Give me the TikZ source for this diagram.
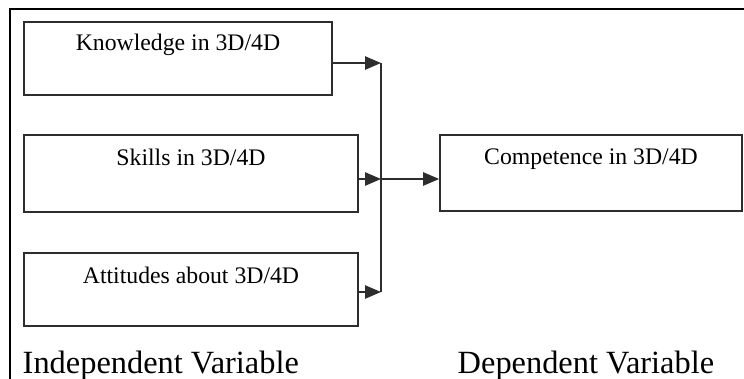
\documentclass[tikz,border=0pt]{standalone}
\usepackage{fontspec}
\setmainfont{Liberation Serif}
\usetikzlibrary{arrows.meta,positioning}
\usepackage{xcolor}
\definecolor{myline}{RGB}{45,45,45}

\begin{document}
\begin{tikzpicture}[->,>={Triangle[length=12pt,width=10pt]},x=0.75pt,y=-0.75pt,line width=1.1pt]
  \tikzstyle{every node}=[inner sep=0pt]
  \tikzstyle{var}=[rectangle,draw=myline,line width=1.3pt]
  \tikzstyle{vartext}=[font=\fontsize{17.8}{20}\selectfont,anchor=base]
  \tikzstyle{heading}=[font=\fontsize{24.3}{27}\selectfont,anchor=base west]

  \useasboundingbox (0,0) rectangle (744,379);
  \draw[-,line width=1.8pt] (744,9) -- (10,9) -- (10,379);

  \node[var,minimum width=231pt,minimum height=54.75pt]   (know) at (178,58.5) {};
  \node[var,minimum width=250.5pt,minimum height=57.75pt] (skill) at (191,173.5) {};
  \node[var,minimum width=250.5pt,minimum height=54.75pt] (att) at (191,289.5) {};
  \node[var,minimum width=226.5pt,minimum height=57pt]    (comp) at (591,173) {};

  \node[vartext] (knowtext)  at ([yshift=-21.75pt]know.north)  {Knowledge in 3D/4D};
  \node[vartext] (skilltext) at ([yshift=-23.25pt]skill.north) {Skills in 3D/4D};
  \node[vartext] (atttext)   at ([yshift=-23.25pt]att.north)   {Attitudes about 3D/4D};
  \node[vartext] (comptext)  at ([yshift=-22.5pt]comp.north)   {Competence in 3D/4D};

  \coordinate (j1) at (381,63);
  \coordinate (j2) at (381,179);
  \coordinate (j3) at (381,292);

  \draw[myline] (know.east |- j1) -- (j1);
  \draw[myline] (skill.east |- j2) -- (j2);
  \draw[myline] (att.east |- j3) -- (j3);
  \draw[myline,-] (j1) -- (j3);
  \draw[myline] (j2) -- (comp.west |- j2);

  \node[heading] (indep) at (22,373)  {Independent Variable};
  \node[heading] (dep)   at (457,373) {Dependent Variable};
\end{tikzpicture}
\end{document}
